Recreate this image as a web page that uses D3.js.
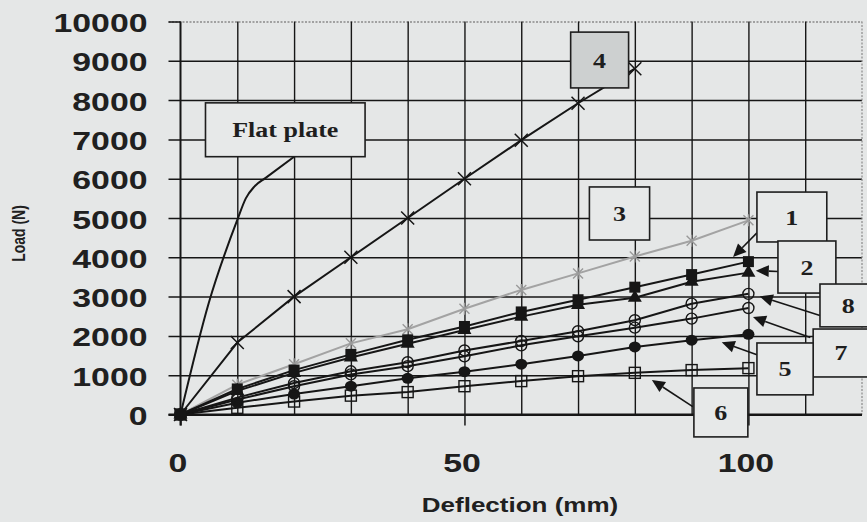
<!DOCTYPE html>
<html>
<head>
<meta charset="utf-8">
<script src="https://cdn.jsdelivr.net/npm/d3@7"></script>
<style>
  html, body { margin: 0; padding: 0; background: #e5e7e7; }
  svg { display: block; }
</style>
</head>
<body>
<svg id="chart" width="867" height="522"></svg>
<script>
// Deflection steps (mm) shared by the panel series
const deflection = [0, 10, 20, 30, 40, 50, 60, 70, 80, 90, 100];

// Load (N) for each panel type
const load1 = [0, 650, 1130, 1530, 1900, 2240, 2610, 2920, 3240, 3560, 3890];
const load2 = [0, 600, 1060, 1450, 1800, 2150, 2490, 2790, 2970, 3380, 3610];
const load3 = [0, 760, 1280, 1810, 2170, 2690, 3170, 3590, 4020, 4420, 4940];
const load5 = [0, 300, 520, 720, 920, 1090, 1280, 1490, 1720, 1890, 2040];
const load6 = [0, 170, 330, 480, 570, 720, 850, 975, 1060, 1130, 1180];
const load7 = [0, 380, 720, 1020, 1230, 1480, 1760, 1990, 2210, 2440, 2710];
const load8 = [0, 430, 800, 1100, 1330, 1630, 1870, 2120, 2400, 2820, 3070];

// Panel 4 stops at 80 mm
const deflection4 = [0, 10, 20, 30, 40, 50, 60, 70, 80];
const load4 = [0, 1830, 3000, 4000, 5000, 6000, 6980, 7920, 8800];

// Flat plate curve
const flatDeflection = [0, 5, 10, 11.5, 13, 15, 20];
const flatLoad = [0, 2850, 4950, 5500, 5800, 6020, 6560];

// Axis ticks
const yTicks = [0, 1000, 2000, 3000, 4000, 5000, 6000, 7000, 8000, 9000, 10000];
const xLabelTicks = [0, 50, 100];
const xGridTicks = [10, 20, 30, 40, 50, 60, 70, 80, 90, 100, 110];

// Callout boxes: label, deflection range, load range
const callouts = [
  { text: "Flat plate", x0: 4.4, x1: 32.5, y0: 6560, y1: 7930, fill: "#e7e9e9" },
  { text: "4", x0: 68.7, x1: 78.9, y0: 8310, y1: 9730, fill: "#cdd0d0" },
  { text: "3", x0: 72.0, x1: 82.6, y0: 4440, y1: 5790, fill: "#e7e9e9" },
  { text: "1", x0: 101.5, x1: 113.8, y0: 4390, y1: 5660, fill: "#e7e9e9" },
  { text: "2", x0: 105.2, x1: 115.4, y0: 3090, y1: 4415, fill: "#e7e9e9" },
  { text: "8", x0: 112.6, x1: 122.6, y0: 2230, y1: 3320, fill: "#e7e9e9" },
  { text: "7", x0: 111.4, x1: 121.2, y0: 955, y1: 2175, fill: "#e7e9e9" },
  { text: "5", x0: 101.5, x1: 111.4, y0: 500, y1: 1820, fill: "#e7e9e9" },
  { text: "6", x0: 90.4, x1: 99.9, y0: -570, y1: 675, fill: "#e7e9e9" }
];

// Arrows: from callout edge to the curve it names
const arrows = [
  { from: [101.5, 4620], to: [97.3, 4010] },
  { from: [105.2, 3640], to: [101.3, 3660] },
  { from: [112.6, 2520], to: [102.0, 3005] },
  { from: [110.9, 1960], to: [100.8, 2480] },
  { from: [101.5, 1520], to: [95.3, 1840] },
  { from: [90.2, 200], to: [83.0, 880] }
];

const svg = d3.select("#chart");
const plotLeft = 180.5, plotRight = 862, plotTop = 21.5, plotBottom = 414.5;
const x = d3.scaleLinear().domain([0, 120]).range([plotLeft, plotRight]);
const y = d3.scaleLinear().domain([0, 10000]).range([plotBottom, plotTop]);
const ink = "#161616";
const stretch = 1.3;

svg.append("rect").attr("width", 867).attr("height", 522).attr("fill", "#e5e7e7");

// Horizontal grid + y tick labels
const yAxis = svg.append("g")
  .attr("transform", `translate(${plotLeft},0)`)
  .call(d3.axisLeft(y).tickValues(yTicks).tickSizeInner(-(plotRight - plotLeft)).tickSizeOuter(0));
yAxis.select(".domain").remove();
yAxis.selectAll(".tick line")
  .attr("x1", -12)
  .attr("stroke", d => (d === 10000 ? "#8a8a8a" : ink))
  .attr("stroke-width", d => (d === 0 ? 2 : 1.5))
  .attr("stroke-dasharray", d => (d === 10000 ? "2,1.5" : null));
yAxis.selectAll(".tick")
  .filter(d => d === 10000)
  .append("line").attr("x1", -12).attr("x2", 0).attr("stroke", ink).attr("stroke-width", 1.5);
yAxis.selectAll(".tick text")
  .attr("x", null).attr("dy", null)
  .attr("transform", `translate(-33,10) scale(${stretch},1)`)
  .attr("text-anchor", "end")
  .attr("font-family", "'Liberation Sans', Arial, sans-serif")
  .attr("font-weight", "bold")
  .attr("font-size", 26)
  .attr("fill", "#202020")
  .text(d => d);

// Vertical grid
const xGrid = svg.append("g")
  .attr("transform", `translate(0,${plotBottom})`)
  .call(d3.axisBottom(x).tickValues(xGridTicks).tickSizeInner(-(plotBottom - plotTop)).tickSizeOuter(0).tickFormat(""));
xGrid.select(".domain").remove();
xGrid.selectAll(".tick line").attr("stroke", ink).attr("stroke-width", 1.4);

// Right border
svg.append("line")
  .attr("x1", x(120)).attr("x2", x(120)).attr("y1", plotTop).attr("y2", plotBottom)
  .attr("stroke", "#8a8a8a").attr("stroke-width", 1.2).attr("stroke-dasharray", "2,1.5");

// x ticks and labels
const xAxis = svg.append("g")
  .attr("transform", `translate(0,${plotBottom})`)
  .call(d3.axisBottom(x).tickValues(xLabelTicks).tickSizeInner(11).tickSizeOuter(0));
xAxis.select(".domain").remove();
xAxis.selectAll(".tick line").attr("stroke", ink).attr("stroke-width", 1.5);
xAxis.selectAll(".tick text")
  .attr("y", null).attr("dy", null)
  .attr("transform", `translate(-3,${472 - plotBottom}) scale(${stretch},1)`)
  .attr("text-anchor", "middle")
  .attr("font-family", "'Liberation Sans', Arial, sans-serif")
  .attr("font-weight", "bold")
  .attr("font-size", 26)
  .attr("fill", "#202020")
  .text(d => d);

// Axis lines
svg.append("line").attr("x1", plotLeft).attr("x2", plotLeft).attr("y1", plotTop).attr("y2", plotBottom + 11)
  .attr("stroke", ink).attr("stroke-width", 2);
svg.append("line").attr("x1", plotLeft - 12).attr("x2", plotRight).attr("y1", plotBottom).attr("y2", plotBottom)
  .attr("stroke", ink).attr("stroke-width", 2);

// Axis titles
svg.append("text")
  .attr("transform", `translate(520,512) scale(${stretch},1)`)
  .attr("text-anchor", "middle")
  .attr("font-family", "'Liberation Sans', Arial, sans-serif")
  .attr("font-weight", "bold").attr("font-size", 20).attr("fill", "#202020")
  .text("Deflection (mm)");
svg.append("text")
  .attr("transform", `translate(25,233.5) scale(${stretch},1) rotate(-90)`)
  .attr("text-anchor", "middle")
  .attr("font-family", "'Liberation Sans', Arial, sans-serif")
  .attr("font-weight", "bold").attr("font-size", 14).attr("fill", "#202020")
  .text("Load (N)");

// Series
const line = d3.line().x(d => x(d[0])).y(d => y(d[1]));
const pairs = (xs, ys) => xs.map((v, i) => [v, ys[i]]);

const marks = svg.append("g");

function drawSeries(xs, ys, color, width, marker) {
  const pts = pairs(xs, ys);
  marks.append("path").attr("d", line(pts)).attr("fill", "none")
    .attr("stroke", color).attr("stroke-width", width).attr("stroke-linejoin", "round");
  const g = marks.append("g");
  pts.forEach(p => marker(g, x(p[0]), y(p[1])));
}

const filledSquare = (g, cx, cy) => g.append("rect").attr("x", cx - 5.5).attr("y", cy - 5.5)
  .attr("width", 11).attr("height", 11).attr("fill", ink);
const filledTriangle = (g, cx, cy) => g.append("path")
  .attr("d", d3.symbol().type(d3.symbolTriangle).size(85)()).attr("transform", `translate(${cx},${cy})`)
  .attr("fill", ink);
const openCircle = (g, cx, cy) => g.append("circle").attr("cx", cx).attr("cy", cy).attr("r", 5.5)
  .attr("fill", "none").attr("stroke", ink).attr("stroke-width", 1.4);
const filledCircle = (g, cx, cy) => g.append("ellipse").attr("cx", cx).attr("cy", cy).attr("rx", 6).attr("ry", 5.5)
  .attr("fill", ink);
const openSquare = (g, cx, cy) => g.append("rect").attr("x", cx - 5.5).attr("y", cy - 5.5)
  .attr("width", 11).attr("height", 11).attr("fill", "none").attr("stroke", ink).attr("stroke-width", 1.4);
const cross = (size, color, w) => (g, cx, cy) => {
  g.append("path").attr("d", `M${cx - size},${cy - size}L${cx + size},${cy + size}M${cx - size},${cy + size}L${cx + size},${cy - size}`)
    .attr("stroke", color).attr("stroke-width", w).attr("fill", "none");
};
const star = (g, cx, cy) => {
  g.append("path").attr("d", `M${cx - 5},${cy - 5}L${cx + 5},${cy + 5}M${cx - 5},${cy + 5}L${cx + 5},${cy - 5}M${cx},${cy - 6}L${cx},${cy + 6}`)
    .attr("stroke", "#9a9a9a").attr("stroke-width", 1.4).attr("fill", "none");
};

// Flat plate (smooth, no markers)
marks.append("path")
  .attr("d", d3.line().curve(d3.curveMonotoneX).x(d => x(d[0])).y(d => y(d[1]))(pairs(flatDeflection, flatLoad)))
  .attr("fill", "none").attr("stroke", ink).attr("stroke-width", 2);

drawSeries(deflection, load3, "#a3a3a3", 2, star);
drawSeries(deflection4, load4, ink, 2, cross(6.5, ink, 1.5));
drawSeries(deflection, load6, ink, 2, openSquare);
drawSeries(deflection, load5, ink, 2, filledCircle);
drawSeries(deflection, load7, ink, 2, openCircle);
drawSeries(deflection, load8, ink, 2, openCircle);
drawSeries(deflection, load2, ink, 2, filledTriangle);
drawSeries(deflection, load1, ink, 2, filledSquare);

// Callouts
const notes = svg.append("g");
arrows.forEach(a => {
  const x1 = x(a.from[0]), y1 = y(a.from[1]), x2 = x(a.to[0]), y2 = y(a.to[1]);
  const ang = Math.atan2(y2 - y1, x2 - x1);
  const len = 13, half = 6;
  const bx = x2 - len * Math.cos(ang), by = y2 - len * Math.sin(ang);
  notes.append("line").attr("x1", x1).attr("y1", y1).attr("x2", bx).attr("y2", by)
    .attr("stroke", ink).attr("stroke-width", 1.6);
  const px = -Math.sin(ang) * half, py = Math.cos(ang) * half;
  notes.append("path")
    .attr("d", `M${x2},${y2}L${bx + px},${by + py}L${bx - px},${by - py}Z`)
    .attr("fill", ink);
});

callouts.forEach(c => {
  const bx0 = x(c.x0), bx1 = x(c.x1), by0 = y(c.y1), by1 = y(c.y0);
  notes.append("rect").attr("x", bx0).attr("y", by0).attr("width", bx1 - bx0).attr("height", by1 - by0)
    .attr("fill", c.fill).attr("stroke", "#1e1e1e").attr("stroke-width", 1.6);
  notes.append("text")
    .attr("transform", `translate(${(bx0 + bx1) / 2},${(by0 + by1) / 2 + 7.5}) scale(${stretch},1)`)
    .attr("text-anchor", "middle")
    .attr("font-family", "'Liberation Serif', 'Times New Roman', serif")
    .attr("font-weight", "bold").attr("font-size", 20).attr("fill", "#1e1e1e")
    .text(c.text);
});
</script>
</body>
</html>
